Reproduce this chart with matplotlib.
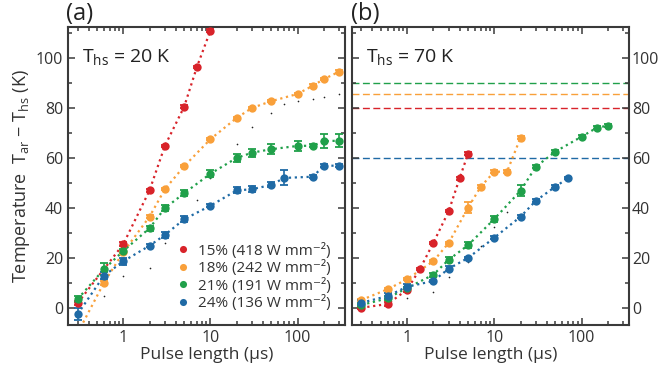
import matplotlib
matplotlib.use("Agg")
import matplotlib.pyplot as plt
from matplotlib.ticker import FuncFormatter, MultipleLocator, LogLocator, NullFormatter

plt.rcParams['font.family'] = ['Open Sans', 'DejaVu Sans']
plt.rcParams['mathtext.fontset'] = 'custom'
plt.rcParams['mathtext.rm'] = 'Open Sans'
plt.rcParams['mathtext.it'] = 'Open Sans'
plt.rcParams['mathtext.default'] = 'regular'

# colours of the four series
c_red = '#d8232a'
c_org = '#f9a03a'
c_grn = '#20a04a'
c_blu = '#1f6aa5'

labels = ['15% (418 W mm⁻²)', '18% (242 W mm⁻²)',
          '21% (191 W mm⁻²)', '24% (136 W mm⁻²)']

# ---- (a) T_hs = 20 K ----
a_red_x = [0.3, 1, 2, 3, 5, 7, 10]
a_red_y = [2.0, 25.5, 47.0, 64.8, 80.5, 96.4, 110.9]
a_red_e = [0.8, 0.8, 0.5, 0.5, 0.5, 0.5, 0.5]

a_org_x = [0.3, 0.6, 1, 2, 3, 5, 10, 20, 30, 50, 100, 150, 200, 300]
a_org_y = [-10.0, 10.1, 22.3, 36.5, 47.5, 56.7, 67.5, 76.0, 80.0, 82.7, 85.6, 88.9, 91.5, 94.5]
a_org_e = [0.5, 0.8, 0.8, 0.5, 0.5, 0.5, 0.5, 0.5, 0.5, 0.5, 0.5, 0.5, 0.5, 0.5]

a_grn_x = [0.3, 0.6, 1, 2, 3, 5, 10, 20, 30, 50, 100, 150, 200, 300]
a_grn_y = [3.6, 15.5, 22.8, 31.9, 39.9, 45.9, 53.7, 60.0, 62.1, 63.5, 64.8, 64.9, 66.7, 66.9]
a_grn_e = [1.2, 2.5, 0.8, 1.0, 1.2, 1.2, 1.5, 1.7, 1.6, 2.0, 2.0, 0.5, 2.8, 2.6]

a_blu_x = [0.3, 0.6, 1, 2, 3, 5, 10, 20, 30, 50, 70, 150, 200, 300]
a_blu_y = [-2.4, 12.9, 18.7, 24.9, 29.2, 35.5, 40.9, 47.0, 47.5, 49.2, 52.0, 52.5, 56.9, 56.9]
a_blu_e = [2.5, 1.5, 1.4, 0.5, 1.1, 1.2, 0.6, 1.2, 1.2, 1.0, 3.0, 0.6, 0.6, 0.6]

a_sim_x = [0.6, 1, 2, 3, 7, 10, 20, 30, 50, 70, 100, 150, 200, 300]
a_sim_y = [5.0, 12.9, 16.0, 25.9, 43.0, 52.1, 65.6, 72.5, 78.1, 81.6, 82.8, 83.5, 84.5, 85.6]

# ---- (b) T_hs = 70 K ----
b_red_x = [0.3, 0.6, 1, 1.4, 2, 3, 4, 5]
b_red_y = [0.1, 1.6, 7.3, 15.5, 26.0, 38.7, 51.8, 61.7]
b_red_e = [0.5, 0.8, 1.0, 0.5, 0.5, 0.5, 0.5, 0.5]

b_org_x = [0.3, 0.6, 1, 2, 3, 5, 7, 10, 14, 20]
b_org_y = [3.2, 7.5, 11.5, 18.7, 26.0, 40.1, 48.5, 54.5, 54.5, 68.1]
b_org_e = [0.5, 0.5, 0.5, 0.5, 0.5, 2.1, 0.5, 0.5, 0.5, 0.5]

b_grn_x = [0.3, 0.6, 1, 2, 3, 5, 10, 20, 30, 50, 100, 150, 200]
b_grn_y = [1.2, 3.9, 8.0, 13.3, 19.3, 25.1, 35.6, 46.9, 56.5, 62.5, 68.5, 72.1, 72.9]
b_grn_e = [0.8, 0.8, 0.5, 0.8, 1.0, 1.2, 1.2, 2.1, 0.5, 0.5, 0.5, 0.5, 0.5]

b_blu_x = [0.3, 0.6, 1, 2, 3, 5, 10, 20, 30, 50, 70]
b_blu_y = [2.1, 4.8, 8.5, 10.8, 15.7, 20.0, 28.1, 36.5, 42.9, 48.5, 51.9]
b_blu_e = [1.0, 1.1, 1.0, 0.5, 1.1, 0.5, 0.5, 0.5, 0.5, 0.5, 0.5]

b_sim_x = [1, 2, 3, 5, 7, 10, 14]
b_sim_y = [4.1, 6.5, 12.5, 18.5, 24.8, 32.5, 38.5]

# steady-state limits (dashed lines in b)
b_limits = [90.0, 85.5, 80.0, 60.0]
b_limit_colors = [c_grn, c_org, c_red, c_blu]

fig = plt.figure(figsize=(6.58, 3.75), dpi=100)
ax1 = fig.add_axes([0.1033, 0.1333, 0.421, 0.795])
ax2 = fig.add_axes([0.5345, 0.1333, 0.4214, 0.795])


def draw_series(ax, x, y, e, color, label=None):
    ax.errorbar(x, y, yerr=e, color=color, fmt='none',
                elinewidth=1.2, capsize=3.0, capthick=1.3, zorder=3)
    ax.plot(x, y, ls=':', lw=1.6, color=color, zorder=2)
    ax.plot(x, y, 'o', ms=6.0, mew=0, color=color, zorder=4, label=label)


for ax in (ax1, ax2):
    ax.set_xscale('log')
    ax.set_xlim(0.232, 350)
    ax.set_ylim(-6.8, 112.4)
    ax.yaxis.set_major_locator(MultipleLocator(20))
    ax.yaxis.set_minor_locator(MultipleLocator(10))
    ax.xaxis.set_major_locator(LogLocator(base=10, numticks=10))
    ax.xaxis.set_minor_locator(LogLocator(base=10, subs=range(2, 10), numticks=10))
    ax.xaxis.set_major_formatter(FuncFormatter(lambda v, p: '%g' % v))
    ax.xaxis.set_minor_formatter(NullFormatter())
    ax.tick_params(which='both', direction='in', top=True, right=True,
                   colors='#3a3a3a', labelcolor='#333333', labelsize=11.5, width=1.1)
    ax.tick_params(which='major', length=5)
    ax.tick_params(which='minor', length=3)
    for s in ax.spines.values():
        s.set_linewidth(1.5)
        s.set_color('#3a3a3a')
    ax.set_xlabel('Pulse length (µs)', fontsize=12.5, color='#333333', labelpad=1)

ax2.tick_params(axis='y', labelleft=False, labelright=True, pad=2)

# panel (a)
draw_series(ax1, a_red_x, a_red_y, a_red_e, c_red, labels[0])
draw_series(ax1, a_org_x, a_org_y, a_org_e, c_org, labels[1])
draw_series(ax1, a_grn_x, a_grn_y, a_grn_e, c_grn, labels[2])
draw_series(ax1, a_blu_x, a_blu_y, a_blu_e, c_blu, labels[3])
ax1.plot(a_sim_x, a_sim_y, 'o', ms=1.2, color='#222222', mew=0, zorder=1)

# panel (b)
for lim, col in zip(b_limits, b_limit_colors):
    ax2.axhline(lim, color=col, ls=(0, (5, 2.5)), lw=1.0, zorder=1)
draw_series(ax2, b_red_x, b_red_y, b_red_e, c_red)
draw_series(ax2, b_org_x, b_org_y, b_org_e, c_org)
draw_series(ax2, b_grn_x, b_grn_y, b_grn_e, c_grn)
draw_series(ax2, b_blu_x, b_blu_y, b_blu_e, c_blu)
ax2.plot(b_sim_x, b_sim_y, 'o', ms=1.2, color='#222222', mew=0, zorder=1)

ax1.set_ylabel('Temperature  T$_{ar}$ − T$_{hs}$ (K)', fontsize=13, color='#333333', labelpad=3)

ax1.text(0.05, 0.9, 'T$_{hs}$ = 20 K', transform=ax1.transAxes, fontsize=14,
         color='#222222', va='center')
ax2.text(0.05, 0.9, 'T$_{hs}$ = 70 K', transform=ax2.transAxes, fontsize=14,
         color='#222222', va='center')
fig.text(0.101, 0.962, '(a)', fontsize=17, color='#222222', va='center')
fig.text(0.533, 0.962, '(b)', fontsize=17, color='#222222', va='center')

leg = ax1.legend(loc='lower right', frameon=False,
                 fontsize=11, handlelength=0.8, handletextpad=0.6,
                 labelspacing=0.1, borderaxespad=0.5, markerscale=0.85)
for t in leg.get_texts():
    t.set_color('#333333')

fig.savefig('out.png', dpi=100)
